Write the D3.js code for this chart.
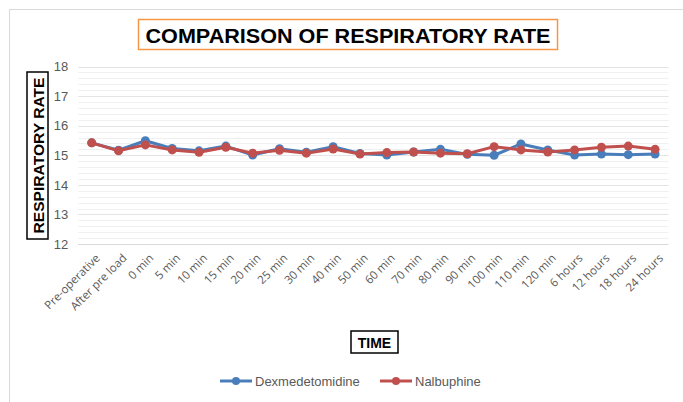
<!DOCTYPE html>
<html>
<head>
<meta charset="utf-8">
<script src="https://cdn.jsdelivr.net/npm/d3@7"></script>
<style>
  body { margin: 0; background: #fff; }
  svg { display: block; font-family: "Liberation Sans", Arial, sans-serif; }
</style>
</head>
<body>
<div id="chart"></div>
<script>
// Chart data
var categories = ["Pre-operative", "After pre load", "0 min", "5 min", "10 min", "15 min",
    "20 min", "25 min", "30 min", "40 min", "50 min", "60 min", "70 min", "80 min",
    "90 min", "100 min", "110 min", "120 min", "6 hours", "12 hours", "18 hours", "24 hours"];
var dexmedetomidine = [15.42, 15.17, 15.49, 15.23, 15.15, 15.31, 15.01, 15.22, 15.1, 15.29,
    15.06, 15.01, 15.11, 15.2, 15.03, 15.0, 15.38, 15.18, 15.01, 15.04, 15.02, 15.04];
var nalbuphine = [15.42, 15.15, 15.35, 15.18, 15.1, 15.27, 15.07, 15.17, 15.07, 15.21,
    15.04, 15.09, 15.11, 15.07, 15.05, 15.29, 15.18, 15.11, 15.18, 15.27, 15.31, 15.2];
var yTicks = [12, 13, 14, 15, 16, 17, 18];

var series = [
    { name: "Dexmedetomidine", values: dexmedetomidine, color: "#4a7ebb" },
    { name: "Nalbuphine", values: nalbuphine, color: "#c0504d" }
];

var width = 683, height = 402;
var svg = d3.select("#chart").append("svg")
    .attr("width", width)
    .attr("height", height);

// outer chart border
svg.append("rect")
    .attr("x", 9.5).attr("y", 9.5)
    .attr("width", 700).attr("height", 420)
    .attr("fill", "none")
    .attr("stroke", "#d9d9d9");

var plot = { left: 78.3, right: 668.5, top: 66.5, bottom: 244 };

var x = d3.scaleBand()
    .domain(categories)
    .range([plot.left, plot.right]);

var y = d3.scaleLinear()
    .domain([12, 18])
    .range([plot.bottom, plot.top]);

// minor gridlines
var minor = d3.range(12, 18.001, 0.2);
svg.append("g").selectAll("line")
    .data(minor)
    .enter().append("line")
    .attr("x1", plot.left).attr("x2", plot.right)
    .attr("y1", d => Math.round(y(d)) + 0.5)
    .attr("y2", d => Math.round(y(d)) + 0.5)
    .attr("stroke", "#f0f0f0");

// major gridlines
svg.append("g").selectAll("line")
    .data(yTicks)
    .enter().append("line")
    .attr("x1", plot.left).attr("x2", plot.right)
    .attr("y1", d => Math.round(y(d)) + 0.5)
    .attr("y2", d => Math.round(y(d)) + 0.5)
    .attr("stroke", d => d === 12 ? "#d9d9d9" : "#e4e4e4");

// y axis labels
var yAxis = d3.axisLeft(y).tickValues(yTicks).tickFormat(d3.format("d")).tickSize(0).tickPadding(10);
svg.append("g")
    .attr("transform", "translate(" + plot.left + ",0)")
    .call(yAxis)
    .call(g => g.select(".domain").remove())
    .selectAll("text")
    .attr("fill", "#595959")
    .style("font-size", "13px")
    .style("font-family", "'Liberation Sans', Arial, sans-serif");

// x axis labels
var xAxis = d3.axisBottom(x).tickSize(0).tickPadding(0);
svg.append("g")
    .attr("transform", "translate(0," + plot.bottom + ")")
    .call(xAxis)
    .call(g => g.select(".domain").remove())
    .selectAll("text")
    .attr("fill", "#595959")
    .style("font-size", "11.5px")
    .style("font-family", "'Open Sans', 'Liberation Sans', sans-serif")
    .attr("text-anchor", "end")
    .attr("dy", "0.35em")
    .attr("transform", "translate(6,12) rotate(-45)");

// lines and markers
var line = d3.line()
    .x((d, i) => x(categories[i]) + x.bandwidth() / 2)
    .y(d => y(d));

series.forEach(s => {
    var g = svg.append("g");
    g.append("path")
        .datum(s.values)
        .attr("d", line)
        .attr("fill", "none")
        .attr("stroke", s.color)
        .attr("stroke-width", 3)
        .attr("stroke-linejoin", "round");
    g.selectAll("circle")
        .data(s.values)
        .enter().append("circle")
        .attr("cx", (d, i) => x(categories[i]) + x.bandwidth() / 2)
        .attr("cy", d => y(d))
        .attr("r", 4.5)
        .attr("fill", s.color);
});

// title with orange box
var title = svg.append("g");
title.append("rect")
    .attr("x", 138.5).attr("y", 19.5)
    .attr("width", 419).attr("height", 30)
    .attr("fill", "#fff")
    .attr("stroke", "#f79646")
    .attr("stroke-width", 1.5);
title.append("text")
    .attr("x", 348).attr("y", 42.5)
    .attr("text-anchor", "middle")
    .attr("textLength", 405)
    .attr("lengthAdjust", "spacingAndGlyphs")
    .style("font-size", "21px")
    .style("font-weight", "bold")
    .attr("fill", "#000")
    .text("COMPARISON  OF  RESPIRATORY  RATE");

// y axis title
var yt = svg.append("g");
yt.append("rect")
    .attr("x", 27).attr("y", 72)
    .attr("width", 21).attr("height", 167)
    .attr("fill", "#fff")
    .attr("stroke", "#000")
    .attr("stroke-width", 1.5);
yt.append("text")
    .attr("transform", "translate(43.5,155.5) rotate(-90)")
    .attr("text-anchor", "middle")
    .attr("textLength", 156)
    .attr("lengthAdjust", "spacingAndGlyphs")
    .style("font-size", "15.5px")
    .style("font-weight", "bold")
    .attr("fill", "#000")
    .text("RESPIRATORY RATE");

// x axis title
var xt = svg.append("g");
xt.append("rect")
    .attr("x", 351).attr("y", 331)
    .attr("width", 47).attr("height", 22)
    .attr("fill", "#fff")
    .attr("stroke", "#000")
    .attr("stroke-width", 1.5);
xt.append("text")
    .attr("x", 374.5).attr("y", 347.5)
    .attr("text-anchor", "middle")
    .style("font-size", "14px")
    .style("font-weight", "bold")
    .attr("fill", "#000")
    .text("TIME");

// legend
var legendX = [220, 380];
var legend = svg.append("g");
series.forEach((s, i) => {
    var lg = legend.append("g").attr("transform", "translate(" + legendX[i] + ",381)");
    lg.append("line")
        .attr("x1", 0).attr("x2", 32)
        .attr("stroke", s.color).attr("stroke-width", 3);
    lg.append("circle").attr("cx", 16).attr("r", 4).attr("fill", s.color);
    lg.append("text")
        .attr("x", 35).attr("y", 4.5)
        .style("font-size", "13px")
        .attr("fill", "#595959")
        .text(s.name);
});
</script>
</body>
</html>
